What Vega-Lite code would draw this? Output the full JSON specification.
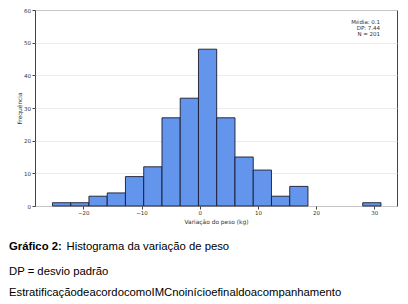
{
  "$schema": "https://vega.github.io/schema/vega-lite/v6.json",
  "background": "white",
  "padding": {"left": 8, "top": 7, "right": 5, "bottom": 2},
  "config": {
    "view": {"stroke": "#444444", "strokeWidth": 1},
    "axis": {
      "labelFont": "DejaVu Sans",
      "titleFont": "DejaVu Sans",
      "labelFontSize": 5.5,
      "titleFontSize": 5.9,
      "titleFontWeight": "normal",
      "labelColor": "#333333",
      "titleColor": "#333333",
      "tickColor": "#444444",
      "tickSize": 3,
      "labelPadding": 1.5,
      "domain": false
    }
  },
  "title": {
    "text": "Histograma da variação de peso",
    "orient": "bottom",
    "anchor": "start",
    "frame": "bounds",
    "font": "Liberation Sans",
    "fontSize": 11.3,
    "fontWeight": "normal",
    "color": "#000000",
    "offset": 0,
    "dx": 58,
    "dy": -58
  },
  "vconcat": [
    {
      "width": 362,
      "height": 196,
      "title": {
        "text": "Gráfico 2:",
        "subtitle": ["DP = desvio padrão", "EstratificaçãodeacordocomoIMCnoinícioefinaldoacompanhamento"],
        "orient": "bottom",
        "anchor": "start",
        "frame": "bounds",
        "font": "Liberation Sans",
        "fontSize": 11.3,
        "fontWeight": "bold",
        "color": "#000000",
        "subtitleFont": "Liberation Sans",
        "subtitleFontSize": 11.3,
        "subtitleColor": "#000000",
        "subtitlePadding": 14,
        "subtitleLineHeight": 21,
        "offset": 17,
        "dx": -7
      },
      "layer": [
        {
          "data": {
            "values": [
              {"bin_start": -25.30, "bin_end": -22.16, "count": 1},
              {"bin_start": -22.16, "bin_end": -19.03, "count": 1},
              {"bin_start": -19.03, "bin_end": -15.89, "count": 3},
              {"bin_start": -15.89, "bin_end": -12.76, "count": 4},
              {"bin_start": -12.76, "bin_end": -9.62, "count": 9},
              {"bin_start": -9.62, "bin_end": -6.48, "count": 12},
              {"bin_start": -6.48, "bin_end": -3.35, "count": 27},
              {"bin_start": -3.35, "bin_end": -0.21, "count": 33},
              {"bin_start": -0.21, "bin_end": 2.92, "count": 48},
              {"bin_start": 2.92, "bin_end": 6.06, "count": 27},
              {"bin_start": 6.06, "bin_end": 9.20, "count": 15},
              {"bin_start": 9.20, "bin_end": 12.33, "count": 11},
              {"bin_start": 12.33, "bin_end": 15.47, "count": 3},
              {"bin_start": 15.47, "bin_end": 18.60, "count": 6},
              {"bin_start": 28.01, "bin_end": 31.15, "count": 1}
            ]
          },
          "mark": {"type": "bar", "color": "#6495ED", "stroke": "#1a1a2e", "strokeWidth": 0.9},
          "encoding": {
            "x": {
              "field": "bin_start",
              "type": "quantitative",
              "scale": {"domain": [-28.3, 33.9], "nice": false, "zero": false},
              "axis": {"values": [-20, -10, 0, 10, 20, 30], "title": "Variação do peso (kg)", "grid": false, "titlePadding": 2, "labelOverlap": false}
            },
            "x2": {"field": "bin_end"},
            "y": {
              "field": "count",
              "type": "quantitative",
              "scale": {"domain": [0, 60], "nice": false},
              "axis": {"tickCount": 7, "title": "Frequência", "grid": true, "gridColor": "#e6e6e6", "gridWidth": 0.8, "titlePadding": 1.5, "labelOverlap": false, "labelFlush": false}
            },
            "y2": {"datum": 0}
          }
        },
        {
          "data": {"values": [{"label": "Média: 0.1\nDP: 7.44\nN = 201"}]},
          "mark": {"type": "text", "align": "right", "baseline": "top", "lineBreak": "\n", "lineHeight": 6.3, "font": "DejaVu Sans", "fontSize": 5.5, "color": "#333333"},
          "encoding": {
            "text": {"field": "label"},
            "x": {"datum": 31, "type": "quantitative"},
            "y": {"datum": 57, "type": "quantitative"}
          }
        }
      ]
    }
  ]
}
